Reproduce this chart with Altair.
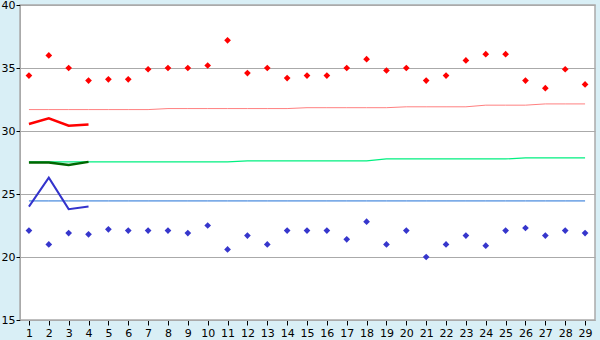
import altair as alt
import pandas as pd

days = list(range(1, 30))
high = [34.4, 36.0, 35.0, 34.0, 34.1, 34.1, 34.9, 35.0, 35.0, 35.2,
        37.2, 34.6, 35.0, 34.2, 34.4, 34.4, 35.0, 35.7, 34.8, 35.0,
        34.0, 34.4, 35.6, 36.1, 36.1, 34.0, 33.4, 34.9, 33.7]
low = [22.1, 21.0, 21.9, 21.8, 22.2, 22.1, 22.1, 22.1, 21.9, 22.5,
       20.6, 21.7, 21.0, 22.1, 22.1, 22.1, 21.4, 22.8, 21.0, 22.1,
       20.0, 21.0, 21.7, 20.9, 22.1, 22.3, 21.7, 22.1, 21.9]
norm_high = [31.7, 31.7, 31.7, 31.7, 31.7, 31.7, 31.7, 31.78, 31.78, 31.78,
             31.78, 31.78, 31.78, 31.78, 31.85, 31.85, 31.85, 31.85, 31.85, 31.92,
             31.92, 31.92, 31.92, 32.05, 32.05, 32.05, 32.15, 32.15, 32.15]
norm_avg = [27.55, 27.55, 27.55, 27.55, 27.55, 27.55, 27.55, 27.55, 27.55, 27.55,
            27.55, 27.63, 27.63, 27.63, 27.63, 27.63, 27.63, 27.63, 27.78, 27.78,
            27.78, 27.78, 27.78, 27.78, 27.78, 27.86, 27.86, 27.86, 27.86]
norm_low = [24.45] * 29
cur_days = [1, 2, 3, 4]
cur_high = [30.55, 31.0, 30.42, 30.52]
cur_avg = [27.5, 27.5, 27.3, 27.55]
cur_low = [24.0, 26.3, 23.8, 24.0]

df = pd.DataFrame({"day": days, "high": high, "low": low,
                   "nh": norm_high, "na": norm_avg, "nl": norm_low})
dc = pd.DataFrame({"day": cur_days, "ch": cur_high, "ca": cur_avg, "cl": cur_low})

xs = alt.Scale(domain=[0.55, 29.5], nice=False, zero=False)
ys = alt.Scale(domain=[15, 40], nice=False, zero=False)
xax = alt.Axis(values=days, title=None, grid=False, domainColor="#aaaaaa",
               tickColor="#000000", tickSize=5, labelFont="DejaVu Sans",
               labelFontSize=11, labelColor="#000000", labelPadding=2,
               labelFlush=False)
yax = alt.Axis(values=[15, 20, 25, 30, 35, 40], title=None, grid=True,
               gridColor="#aaaaaa", domainColor="#aaaaaa", tickColor="#000000",
               tickSize=4, labelFont="DejaVu Sans", labelFontSize=11,
               labelColor="#000000", labelPadding=1)

def X():
    return alt.X("day:Q", scale=xs, axis=xax)

def Y(f):
    return alt.Y(f + ":Q", scale=ys, axis=yax)

base = alt.Chart(df)
cur = alt.Chart(dc)
layers = [
    base.mark_line(color="#ff8080", strokeWidth=1).encode(x=X(), y=Y("nh")),
    base.mark_line(color="#00f080", strokeWidth=1.2).encode(x=X(), y=Y("na")),
    base.mark_line(color="#1f6fd6", strokeWidth=1).encode(x=X(), y=Y("nl")),
    cur.mark_line(color="#ff0000", strokeWidth=2.5).encode(x=X(), y=Y("ch")),
    cur.mark_line(color="#006600", strokeWidth=2.5).encode(x=X(), y=Y("ca")),
    cur.mark_line(color="#3333cc", strokeWidth=2).encode(x=X(), y=Y("cl")),
    base.mark_point(shape="diamond", filled=True, size=45, color="#ff0000", opacity=1).encode(x=X(), y=Y("high")),
    base.mark_point(shape="diamond", filled=True, size=45, color="#3636cc", opacity=1).encode(x=X(), y=Y("low")),
]

chart = alt.layer(*layers).properties(
    width=575, height=315,
    autosize=alt.AutoSizeParams(type="none"),
    padding={"left": 20, "top": 5, "right": 5, "bottom": 20},
    background="#d9eff6",
).configure_view(stroke="#aaaaaa", strokeWidth=1.5, fill="#ffffff")

chart.save("out.html", embed_options={"renderer": "svg", "actions": False})
